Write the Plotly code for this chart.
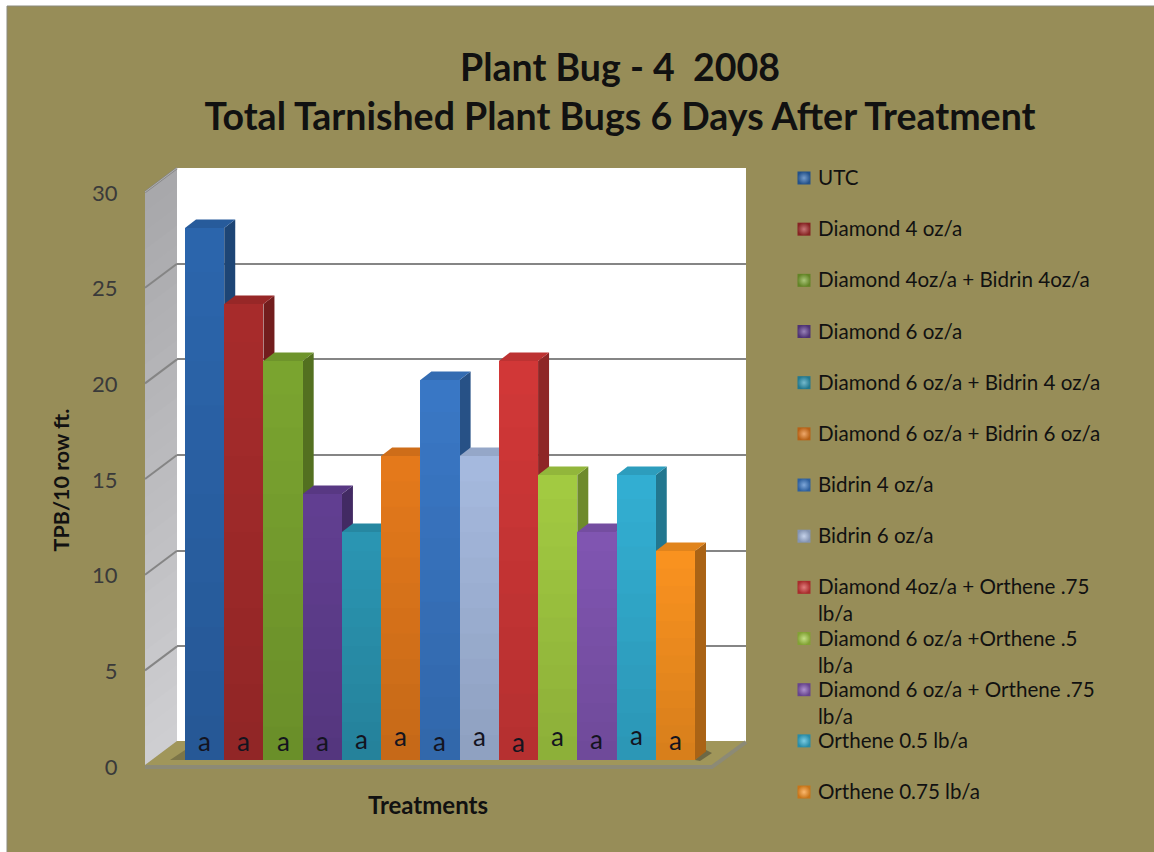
import plotly.graph_objects as go

TITLE = "Plant Bug - 4  2008<br>Total Tarnished Plant Bugs 6 Days After Treatment"
treatments = ["UTC", "Diamond 4 oz/a", "Diamond 4oz/a + Bidrin 4oz/a", "Diamond 6 oz/a",
              "Diamond 6 oz/a + Bidrin 4 oz/a", "Diamond 6 oz/a + Bidrin 6 oz/a", "Bidrin 4 oz/a",
              "Bidrin 6 oz/a", "Diamond 4oz/a + Orthene .75<br>lb/a", "Diamond 6 oz/a +Orthene .5<br>lb/a",
              "Diamond 6 oz/a + Orthene .75<br>lb/a", "Orthene 0.5 lb/a", "Orthene 0.75 lb/a"]
values = [28, 24, 21, 14, 12, 16, 20, 16, 21, 15, 12, 15, 11]
letters = ["a"] * 13
letter_heights = [1.0, 1.0, 1.0, 1.0, 1.1, 1.25, 1.0, 1.25, 0.95, 1.25, 1.1, 1.3, 1.05]
y_ticks = [0, 5, 10, 15, 20, 25, 30]
colors = ["#2c66ad", "#a82c2c", "#7ba530", "#623f92", "#2b96b3", "#e57a1c", "#3a78c6",
          "#a6badf", "#d23838", "#a3cb42", "#8156b2", "#33afd3", "#fa9320"]

W, H = 1154, 852
OLIVE = "#978d58"
FONT = "Lato"


def px(x):
    return x / W


def py(y):
    return 1 - y / H


def dom_x(a, b):
    return [px(a), px(b)]


def dom_y(top, bottom):
    return [py(bottom), py(top)]


def shade(hex_color, f):
    r, g, b = (int(hex_color[i:i + 2], 16) for i in (1, 3, 5))
    return f"rgb({int(r * f)},{int(g * f)},{int(b * f)})"


def lighten(hex_color, f):
    r, g, b = (int(hex_color[i:i + 2], 16) for i in (1, 3, 5))
    return f"rgb({int(r + (255 - r) * f)},{int(g + (255 - g) * f)},{int(b + (255 - b) * f)})"


def poly(points, fill):
    path = "M" + " L".join(f"{px(a):.5f},{py(b):.5f}" for a, b in points) + " Z"
    return dict(type="path", path=path, xref="paper", yref="paper", fillcolor=fill,
                line=dict(width=0), layer="below")


def seg(a, b, c, d, color, width):
    return dict(type="line", x0=px(a), y0=py(b), x1=px(c), y1=py(d), xref="paper", yref="paper",
                line=dict(color=color, width=width), layer="below")


PITCH = 39.23
BAR_LEFT = 185
BAR_BASE = 760
UNIT = 19.13
BAR_UNIT = 19.0
DX = 11 / PITCH
DY = 8.5 / BAR_UNIT
bar_right_px = BAR_LEFT + 13.5 * PITCH

fig = go.Figure()

# wall plane: carries the horizontal grid
fig.add_trace(go.Scatter(x=[0], y=[0], mode="markers", marker=dict(opacity=0), xaxis="x", yaxis="y",
                         hoverinfo="skip", showlegend=False))

# side and top faces
for i, v in enumerate(values):
    l, r = i - 0.5, i + 0.5
    fig.add_trace(go.Scatter(x=[r, r + DX, r + DX, r, r], y=[0, DY, v + DY, v, 0], mode="lines", fill="toself",
                             fillcolor=shade(colors[i], 0.68), line=dict(width=0), xaxis="x2", yaxis="y2",
                             hoverinfo="skip", showlegend=False))
    fig.add_trace(go.Scatter(x=[l, r, r + DX, l + DX, l], y=[v, v, v + DY, v + DY, v], mode="lines", fill="toself",
                             fillcolor=shade(colors[i], 0.9), line=dict(width=0), xaxis="x2", yaxis="y2",
                             hoverinfo="skip", showlegend=False))

# front faces
for i, v in enumerate(values):
    fig.add_trace(go.Bar(x=[i], y=[v], width=1, name=treatments[i].replace("<br>", " "),
                         marker=dict(color=colors[i], line=dict(width=0)), xaxis="x3", yaxis="y3",
                         showlegend=False))

# front plane: tick labels and axis titles
fig.add_trace(go.Scatter(x=[0], y=[0], mode="markers", marker=dict(opacity=0), xaxis="x4", yaxis="y4",
                         hoverinfo="skip", showlegend=False))

# legend keys on a pixel-like helper axis
legend_y = [178 + 51.17 * k for k in range(13)]
fig.add_trace(go.Scatter(x=[804] * 13, y=legend_y, mode="markers", xaxis="x5", yaxis="y5", hoverinfo="skip",
                         showlegend=False,
                         marker=dict(symbol="square", size=13, color=[shade(c, 0.8) for c in colors],
                                     gradient=dict(type="radial", color=[lighten(c, 0.35) for c in colors]),
                                     line=dict(width=0))))

shapes = [
    dict(type="rect", x0=px(7), x1=1.01, y0=-0.01, y1=py(6), xref="paper", yref="paper", fillcolor=OLIVE,
         line=dict(color="#8b8a7c", width=1), layer="below"),
    poly([(177, 168), (746, 168), (746, 742), (177, 742)], "#ffffff"),
    poly([(145, 765), (177, 741), (746, 741), (712, 765)], "#a0965a"),
]
# left wall, shaded
N_WALL = 30
for k in range(N_WALL):
    a, b = k / N_WALL, (k + 1.4) / N_WALL
    g = int(168 + 40 * a)
    shapes.append(poly([(145, 192 + a * 573), (177, 168 + a * 573), (177, 168 + min(b, 1) * 573),
                        (145, 192 + min(b, 1) * 573)], f"rgb({g},{g},{g + 3})"))
for t in y_ticks[1:]:
    shapes.append(seg(145, 766 - t * UNIT, 177, 742 - t * UNIT, "#858585", 2))
shapes += [
    seg(145, 767, 713, 767, "#8c8a76", 4),
    seg(712, 767, 746, 742, "#8c8a76", 4),
    seg(145, 192, 177, 168, "#b0b0b0", 1),
    poly([(170, 760), (185, 760), (185, 750)], "#7c7548"),
    poly([(695, 760), (706, 750), (712, 753), (700, 761)], "#6d6845"),
]
# vertical shading of the front faces
N_STRIP = 12
for i, v in enumerate(values):
    for k in range(N_STRIP):
        shapes.append(dict(type="rect", xref="x3", yref="y3", x0=i - 0.5, x1=i + 0.5,
                           y0=v * k / N_STRIP, y1=v * (k + 1) / N_STRIP, fillcolor="#000000",
                           opacity=0.14 * (1 - (k + 0.5) / N_STRIP), line=dict(width=0), layer="above"))

annotations = []
for i, (ch, h) in enumerate(zip(letters, letter_heights)):
    annotations.append(dict(text=ch, x=i, y=h, xref="x3", yref="y3", showarrow=False,
                            font=dict(family=FONT, size=26, color="#14141f")))
for name, y in zip(treatments, legend_y):
    annotations.append(dict(text=name, x=px(817), y=py(y - 14), xref="paper", yref="paper", xanchor="left",
                            yanchor="top", align="left", showarrow=False, borderpad=0,
                            font=dict(family=FONT, size=20.6, color="#111111")))

hidden = dict(visible=False, fixedrange=True, automargin=False)
fig.update_layout(
    width=W, height=H, margin=dict(l=0, r=0, t=0, b=0, autoexpand=False), paper_bgcolor="#ffffff",
    plot_bgcolor="rgba(0,0,0,0)", barmode="overlay", bargap=0, showlegend=False,
    font=dict(family=FONT),
    title=dict(text=TITLE, x=px(620), y=py(81), xanchor="center", yanchor="top", xref="paper", yref="container",
               automargin=False, font=dict(family=FONT, size=37.5, color="#111111", weight="bold"),
               pad=dict(t=0, b=0, l=0, r=0)),
    shapes=shapes, annotations=annotations,
    xaxis=dict(domain=dom_x(177, 746), range=[0, 1], anchor="y", showgrid=False, zeroline=False,
               showticklabels=False, showline=False, ticks="", fixedrange=True, automargin=False),
    yaxis=dict(domain=dom_y(168, 742), range=[0, 30], anchor="x", tickvals=y_ticks, showgrid=True,
               gridcolor="#858585", gridwidth=2, zeroline=False, showticklabels=False, showline=False, ticks="",
               fixedrange=True, automargin=False),
    xaxis2=dict(domain=dom_x(BAR_LEFT, bar_right_px), range=[-0.5, 13], anchor="y2", **hidden),
    yaxis2=dict(domain=dom_y(BAR_BASE - 30 * BAR_UNIT, BAR_BASE), range=[0, 30], anchor="x2", **hidden),
    xaxis3=dict(overlaying="x2", range=[-0.5, 13], anchor="y3", **hidden),
    yaxis3=dict(overlaying="y2", range=[0, 30], anchor="x3", **hidden),
    xaxis4=dict(domain=dom_x(145, 711), range=[0, 1], anchor="y4", showgrid=False, zeroline=False,
                showticklabels=False, showline=False, ticks="", fixedrange=True, automargin=False,
                title=dict(text="Treatments", standoff=30,
                           font=dict(family=FONT, size=24, color="#111111", weight="bold"))),
    yaxis4=dict(domain=dom_y(193, 767), range=[0, 30], anchor="x4", tickvals=y_ticks, showgrid=False,
                zeroline=False, showline=False, ticks="outside", ticklen=22, tickcolor="rgba(0,0,0,0)",
                tickfont=dict(family=FONT, size=22, color="#3a3a3a"), fixedrange=True, automargin=False,
                title=dict(text="TPB/10 row ft.", standoff=16,
                           font=dict(family=FONT, size=21.5, color="#111111", weight="bold"))),
    xaxis5=dict(domain=[0, 1], range=[0, W], anchor="y5", **hidden),
    yaxis5=dict(domain=[0, 1], range=[H, 0], anchor="x5", **hidden),
)

fig.write_html("out.html", config=dict(displayModeBar=False),
               post_script="document.body.style.margin='0';document.body.style.overflow='hidden';")
